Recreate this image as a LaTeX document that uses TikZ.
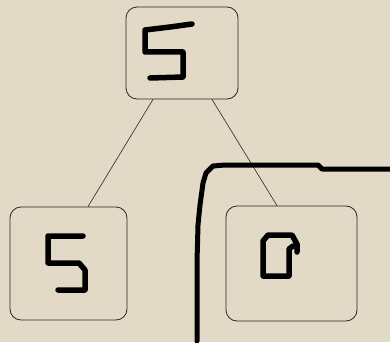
\documentclass[tikz,border=0pt]{standalone}
\usetikzlibrary{calc}
\definecolor{bgbeige}{RGB}{226,217,198}
\definecolor{boxline}{RGB}{40,40,40}
\begin{document}
\begin{tikzpicture}[x=1pt,y=-1pt,
  treebox/.style={draw=boxline,line width=0.8pt,rounded corners=11pt,minimum width=#1,inner sep=0pt},
  link/.style={draw=boxline,line width=0.6pt},
  ink/.style={line width=5.5pt,line cap=round,line join=round},
  pen/.style={line width=5pt,line cap=round,line join=round}]
\fill[bgbeige] (0,0) rectangle (390,342);
\useasboundingbox (0,0) rectangle (390,342);
% boxes
\node[treebox=112pt,minimum height=92pt] (top) at (182,53) {};
\node[treebox=117pt,minimum height=113pt] (bl) at (68.5,263.5) {};
\node[treebox=131pt,minimum height=115pt] (br) at (291.5,263.5) {};
% connectors
\draw[link] ([xshift=-29pt]top.south) -- ([xshift=19.5pt]bl.north);
\draw[link] ([xshift=30pt]top.south) -- ([xshift=-14.5pt]br.north);
% handwritten digits
\draw[ink] (192,24) -- (170,27) -- (145,30) -- (145,52) -- (183,52) -- (183,77) -- (150,78);
\draw[ink] (83,236) -- (48,236) -- (48,263) -- (79,263) -- (85,270) -- (85,290) -- (58,290);
\draw[ink] (297,252) -- (297,244) -- (292,235) -- (268,235) -- (263,241) -- (263,276) -- (289,276) -- (289,249) -- (293,246);
% thick pen stroke
\draw[pen] (197,341) -- (197,262) -- (198,225) -- (200,205) -- (203,183) -- (206,173) -- (213,166) -- (225,165) -- (318,165) -- (322,169) -- (390,169);
\end{tikzpicture}
\end{document}
